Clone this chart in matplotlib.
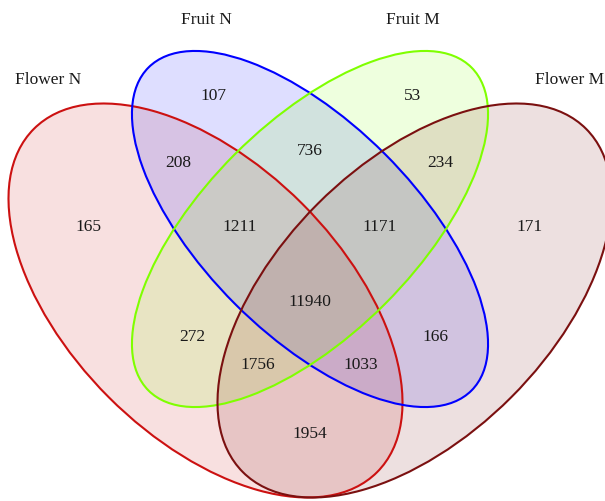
import matplotlib
matplotlib.use("Agg")
import matplotlib.pyplot as plt
from matplotlib.patches import Ellipse

# set names, outline colours
sets = ["Flower N", "Fruit N", "Fruit M", "Flower M"]
colors = ["#cc1111", "#0000ff", "#7fff00", "#7b1010"]

# region counts and where they sit
counts = [165, 107, 53, 171, 208, 736, 234, 1211, 1171,
          11940, 272, 166, 1756, 1033, 1954]
count_pos = [(88, 227), (213, 96), (413, 96), (530, 227), (178, 163),
             (310, 151), (440, 163), (240, 227), (380, 227), (310, 302),
             (192, 337), (435, 337), (258, 365), (361, 365), (310, 434)]

# ellipse geometry in pixel units: centre, semi axes, rotation
centers = [(205.5, 301.5), (310, 230), (310, 230), (414.5, 301.5)]
semi_a = [242.7, 228.4, 228.4, 242.7]
semi_b = [136.8, 106.0, 106.0, 136.8]
angles = [45, 45, -45, -45]
label_pos = [(48, 80), (206, 20), (413, 20), (570, 80)]

fig = plt.figure(figsize=(6.05, 5.02), dpi=100)
ax = fig.add_axes([0, 0, 1, 1])
ax.set_xlim(0, 605)
ax.set_ylim(502, 0)
ax.axis("off")

serif = ["Liberation Serif", "DejaVu Serif"]

for (cx, cy), a, b, ang, c in zip(centers, semi_a, semi_b, angles, colors):
    ax.add_patch(Ellipse((cx, cy), 2 * a, 2 * b, angle=ang,
                         facecolor=c, alpha=0.13, edgecolor="none"))
for (cx, cy), a, b, ang, c in zip(centers, semi_a, semi_b, angles, colors):
    ax.add_patch(Ellipse((cx, cy), 2 * a, 2 * b, angle=ang,
                         facecolor="none", edgecolor=c, lw=1.5))

for n, (x, y) in zip(counts, count_pos):
    ax.text(x, y, str(n), ha="center", va="center", fontsize=12.5,
            family=serif, color="#1a1a1a")

for name, (x, y) in zip(sets, label_pos):
    ax.text(x, y, name, ha="center", va="center", fontsize=12.5,
            family=serif, color="#1a1a1a")

fig.savefig("out.png", dpi=100)
